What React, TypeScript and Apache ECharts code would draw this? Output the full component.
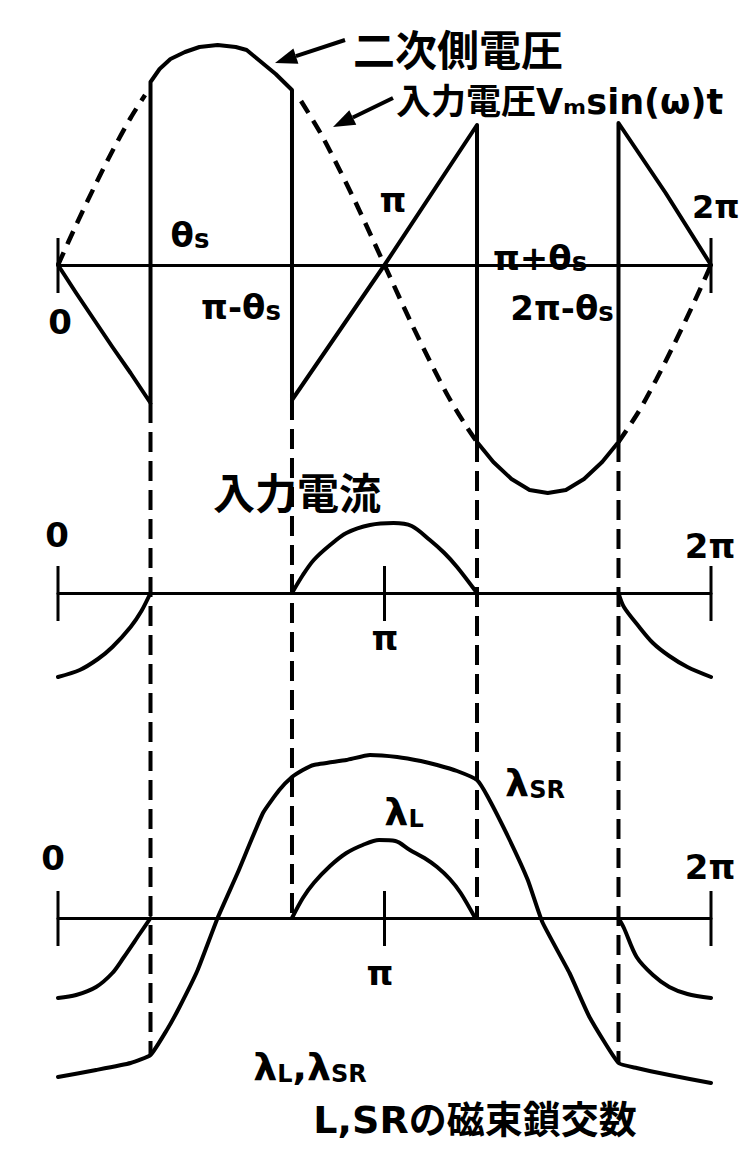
import React, { useEffect, useRef } from "react";
import * as echarts from "echarts";

// angles in degrees (0 .. 360 = 0 .. 2π)
const THETA_S = 51;

// ---- top panel: input voltage (dashed) and secondary voltage (solid)
const inputVoltage1 = [[0, 0], [10, 40], [20, 78], [30, 114], [40, 147], [48, 170]];
const inputVoltage2 = [[134, 164], [145, 131], [155, 96], [165, 59], [180, 0], [195, -59], [205, -96], [215, -131], [225, -161], [231, -177]];
const inputVoltage3 = [[309, -177], [320, -147], [330, -114], [340, -78], [350, -40], [360, 0]];
const secondaryVoltage = [
  [0, 0], [10, -28], [20, -55], [30, -82], [40, -108], [51, -138],
  [51, 183], [56, 196], [62, 206], [70, 213], [78, 218], [88, 220], [98, 218], [104, 215], [110, 206], [120, 191], [129, 175],
  [129, -135], [180, 0], [231, 140],
  [231, -177], [240, -197], [250, -214], [260, -225], [270, -228], [280, -225], [290, -214], [300, -197], [309, -177],
  [309, 142], [335, 72], [360, 0],
];

// ---- middle panel: input current
const current1 = [[0, -84], [12, -77], [22, -66], [30, -54], [40, -34], [46, -18], [51, 0]];
const current2 = [[129, 0], [135, 18], [141, 33], [150, 48], [159, 60], [172, 68], [185, 70], [195, 67], [205, 53], [213, 40], [220, 26], [231, 0]];
const current3 = [[309, 0], [312, -14], [320, -33], [328, -50], [337, -63], [347, -74], [360, -84]];

// ---- bottom panel: flux linkages
const lambdaL1 = [[0, -80], [10, -77], [21, -69], [30, -55], [36, -40], [45, -16], [51, 0]];
const lambdaL2 = [[129, 0], [135, 20], [141, 35], [150, 52], [159, 65], [168, 73], [177, 78], [186, 77], [194, 68], [202, 60], [209, 51], [216, 39], [222, 25], [230, 0]];
const lambdaL3 = [[309, 0], [312, -10], [319, -39], [328, -57], [337, -69], [347, -76], [360, -80]];
const lambdaSR = [
  [0, -159], [21, -152], [40, -145], [51, -137], [60, -112], [67, -89], [77, -52], [88, 0], [99, 45], [113, 105], [122, 128], [129, 141],
  [135, 148], [141, 153], [159, 158], [172, 163], [187, 161], [200, 157], [209, 153], [220, 147], [231, 138],
  [237, 121], [249, 78], [259, 38], [267, -4], [282, -55], [293, -99], [309, -145], [319, -150], [337, -157], [360, -165],
];

// axis ticks at 0, π, 2π per panel
const tickAnglesTop = [0, 360];
const tickAnglesMid = [0, 180, 360];
const tickAnglesBot = [0, 180, 360];

// dashed guide lines: angle, value in top panel, value in bottom panel
const guideAngles = [THETA_S, 180 - THETA_S, 180 + THETA_S, 360 - THETA_S];
const guideTopValues = [-138, -135, -177, -177];
const guideBottomValues = [-137, 0, 0, -145];

const FONT = '"DejaVu Sans", "Noto Sans CJK JP", sans-serif';
const CJK = '"Noto Sans CJK JP", "DejaVu Sans", sans-serif';

function solid(name: string, data: number[][], grid: number, smooth: number | boolean = false) {
  return {
    name, type: "line", data, xAxisIndex: grid, yAxisIndex: grid, symbol: "none", smooth,
    lineStyle: { color: "#000", width: 4, join: "round", cap: "round" },
    silent: true, z: 3,
  };
}
function dashed(name: string, data: number[][], grid: number) {
  return {
    name, type: "line", data, xAxisIndex: grid, yAxisIndex: grid, symbol: "none", smooth: 0.3,
    lineStyle: { color: "#000", width: 4.5, type: [14, 9] },
    silent: true, z: 2,
  };
}
function ticks(angles: number[], grid: number) {
  return angles.map((a, i) => ({
    name: `tick${grid}_${i}`, type: "line", data: [[a, 27], [a, -28]], xAxisIndex: grid, yAxisIndex: grid,
    symbol: "none", lineStyle: { color: "#000", width: 3 }, silent: true,
  }));
}

function txt(text: string, x: number, y: number, size: number, opts: any = {}) {
  return {
    type: "text", x, y, z: 10,
    style: {
      text, fontSize: size, fontWeight: "bold", fontFamily: opts.family || FONT, fill: "#000",
      align: opts.align || "center", verticalAlign: "middle", rich: opts.rich,
    },
  };
}
const subRich = {
  b: { fontSize: 38, fontWeight: "bold", fontFamily: FONT, fill: "#000" },
  s: { fontSize: 24, fontWeight: "bold", fontFamily: FONT, fill: "#000", padding: [14, 0, 0, 0] },
  t: { fontSize: 34, fontWeight: "bold", fontFamily: FONT, fill: "#000" },
  u: { fontSize: 26, fontWeight: "bold", fontFamily: FONT, fill: "#000", padding: [8, 0, 0, 0] },
};

export default function App() {
  const ref = useRef<HTMLDivElement>(null);
  useEffect(() => {
    if (!ref.current) return;
    const chart = echarts.init(ref.current, null, { renderer: "svg" });
    const axisX = (i: number) => ({
      type: "value", gridIndex: i, min: 0, max: 360,
      axisLine: { show: true, onZero: true, lineStyle: { color: "#000", width: 3 } },
      axisTick: { show: false }, axisLabel: { show: false }, splitLine: { show: false },
    });
    const axisY = (i: number, min: number, max: number) => ({
      type: "value", gridIndex: i, min, max, show: false, splitLine: { show: false },
    });
    chart.setOption({
      animation: false,
      backgroundColor: "#fff",
      grid: [
        { left: 58, width: 653, top: 25, height: 480 },
        { left: 58, width: 653, top: 505, height: 176 },
        { left: 58, width: 653, top: 681, height: 469 },
      ],
      xAxis: [axisX(0), axisX(1), axisX(2)],
      yAxis: [axisY(0, -240, 240), axisY(1, -88, 88), axisY(2, -232, 237)],
      series: [
        dashed("入力電圧1", inputVoltage1, 0),
        dashed("入力電圧2", inputVoltage2, 0),
        dashed("入力電圧3", inputVoltage3, 0),
        solid("二次側電圧", secondaryVoltage, 0),
        solid("入力電流1", current1, 1, 0.3),
        solid("入力電流2", current2, 1, 0.3),
        solid("入力電流3", current3, 1, 0.3),
        solid("λL1", lambdaL1, 2, 0.3),
        solid("λL2", lambdaL2, 2, 0.3),
        solid("λL3", lambdaL3, 2, 0.3),
        solid("λSR", lambdaSR, 2, 0.15),
        ...ticks(tickAnglesTop, 0),
        ...ticks(tickAnglesMid, 1),
        ...ticks(tickAnglesBot, 2),
      ],
    });

    const guides = guideAngles.map((a, i) => {
      const p1 = chart.convertToPixel({ gridIndex: 0 } as any, [a, guideTopValues[i]]) as number[];
      const p2 = chart.convertToPixel({ gridIndex: 2 } as any, [a, guideBottomValues[i]]) as number[];
      return {
        type: "line", z: 1,
        shape: { x1: p1[0], y1: p1[1], x2: p2[0], y2: p2[1] },
        style: { stroke: "#000", lineWidth: 4, lineDash: [20, 9] },
      };
    });

    const arrow = (x1: number, y1: number, x2: number, y2: number) => {
      const ang = Math.atan2(y2 - y1, x2 - x1);
      const L = 22, W = 8;
      const bx = x2 - L * Math.cos(ang), by = y2 - L * Math.sin(ang);
      const nx = -Math.sin(ang) * W, ny = Math.cos(ang) * W;
      return [
        { type: "line", shape: { x1, y1, x2: bx, y2: by }, style: { stroke: "#000", lineWidth: 4 } },
        { type: "polygon", shape: { points: [[x2, y2], [bx + nx, by + ny], [bx - nx, by - ny]] }, style: { fill: "#000" } },
      ];
    };

    chart.setOption({
      graphic: [
        ...guides,
        ...arrow(345, 40, 275, 63),
        ...arrow(393, 98, 333, 127),
        txt("二次側電圧", 458, 47, 42, { family: CJK }),
        txt("入力電圧Vₘsin(ω)t", 396, 102, 35, { align: "left" }),
        // top panel labels
        txt("0", 60, 322, 34),
        txt("{t|θ}{u|s}", 190, 235, 34, { rich: subRich }),
        txt("{t|π-θ}{u|s}", 241, 307, 34, { rich: subRich }),
        txt("π", 393, 200, 34),
        txt("{t|π+θ}{u|s}", 540, 258, 34, { rich: subRich }),
        txt("{t|2π-θ}{u|s}", 562, 308, 34, { rich: subRich }),
        txt("2π", 692, 207, 32, { align: "left" }),
        // middle panel labels
        txt("0", 57, 535, 34),
        txt("入力電流", 297, 490, 42, { family: CJK }),
        txt("π", 385, 638, 34),
        txt("2π", 710, 546, 34),
        // bottom panel labels
        txt("0", 53, 858, 34),
        txt("π", 380, 973, 34),
        txt("2π", 710, 867, 34),
        txt("{b|λ}{s|SR}", 535, 783, 38, { rich: subRich }),
        txt("{b|λ}{s|L}", 404, 812, 38, { rich: subRich }),
        txt("{b|λ}{s|L}{b|,λ}{s|SR}", 310, 1067, 38, { rich: subRich }),
        txt("L,SRの磁束鎖交数", 475, 1120, 38),
      ],
    });
    return () => chart.dispose();
  }, []);
  return (
    <div
      ref={ref}
      style={{ position: "absolute", left: 0, top: 0, width: 739, height: 1150, background: "#fff" }}
    />
  );
}
